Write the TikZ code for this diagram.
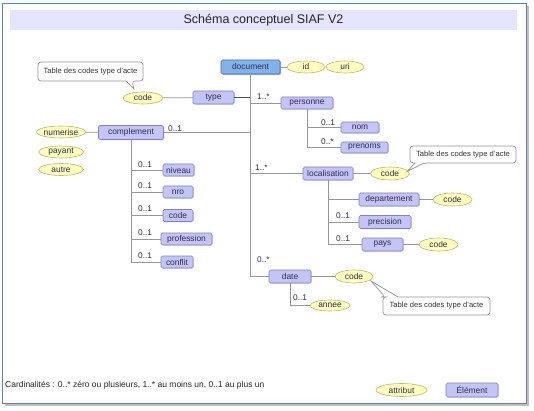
\documentclass[tikz,border=0pt]{standalone}
\usepackage{fontspec}
\setmainfont{Liberation Sans}
\usetikzlibrary{shapes.geometric,shadows}
\definecolor{elfill}{RGB}{196,196,246}
\definecolor{eldraw}{RGB}{130,130,195}
\definecolor{docfill}{RGB}{130,178,234}
\definecolor{docdraw}{RGB}{70,110,165}
\definecolor{atfill}{RGB}{255,255,190}
\definecolor{atdraw}{RGB}{185,185,115}
\definecolor{lnk}{RGB}{150,150,150}
\definecolor{txt}{RGB}{45,45,80}
\definecolor{titlefill}{RGB}{228,228,252}
\definecolor{framec}{RGB}{105,128,160}
\tikzset{
  elem/.style={rectangle, rounded corners=1.5pt, fill=elfill, draw=eldraw, line width=0.6pt,
    minimum height=13pt, inner sep=0pt, text=txt, font=\fontsize{8.4}{9}\selectfont,
    drop shadow={shadow xshift=0.8pt, shadow yshift=-0.8pt, opacity=0.25}},
  docel/.style={elem, fill=docfill, draw=docdraw,
    drop shadow={shadow xshift=1.2pt, shadow yshift=-1.2pt, opacity=0.5}},
  attr/.style={ellipse, fill=atfill, draw=atdraw, line width=0.6pt, minimum height=12pt,
    inner sep=0pt, text=txt, font=\fontsize{8.4}{9}\selectfont},
  card/.style={anchor=west, inner sep=0pt, text=txt, font=\fontsize{8.3}{9}\selectfont},
  link/.style={draw=lnk, line width=0.8pt},
  callout/.style={draw=lnk, fill=white, line width=0.7pt},
  calltext/.style={inner sep=0pt, text=black!80, font=\fontsize{7.6}{9}\selectfont}
}
\begin{document}
\begin{tikzpicture}[x=1pt,y=-1pt]
\useasboundingbox (0,0) rectangle (534,411);
% frame
\fill[black!25] (5,6) rectangle (529,406);
\filldraw[fill=white, draw=framec, line width=1pt] (2.5,3.5) rectangle (526,403);
\fill[titlefill] (10,10) rectangle (517,30);
\node[font=\fontsize{12.5}{14}\selectfont, text=black!85] (title) at (263.5,20) {Schéma conceptuel SIAF V2};

% element nodes
\node[docel, minimum width=59pt, minimum height=14pt] (document) at (250.5,67) {document};
\node[elem, minimum width=41pt] (type) at (213.5,97.5) {type};
\node[elem, minimum width=52pt, minimum height=12pt] (personne) at (307,103) {personne};
\node[elem, minimum width=38pt, minimum height=11pt] (nom) at (360,127.5) {nom};
\node[elem, minimum width=47pt, minimum height=11pt] (prenoms) at (364.5,147.5) {prenoms};
\node[elem, minimum width=65pt, minimum height=14pt] (complement) at (131,132.5) {complement};
\node[elem, minimum width=31pt, minimum height=12pt] (niveau) at (178.5,170) {niveau};
\node[elem, minimum width=30pt, minimum height=12pt] (nro) at (178,192) {nro};
\node[elem, minimum width=30pt, minimum height=12pt] (ccode) at (178,215.5) {code};
\node[elem, minimum width=51pt, minimum height=12pt] (profession) at (186.5,239) {profession};
\node[elem, minimum width=32pt, minimum height=12pt] (conflit) at (177,262) {conflit};
\node[elem, minimum width=50pt] (localisation) at (328,173.5) {localisation};
\node[elem, minimum width=60pt] (departement) at (389,199.5) {departement};
\node[elem, minimum width=52pt] (precision) at (385,222) {precision};
\node[elem, minimum width=41pt] (pays) at (382.5,244.5) {pays};
\node[elem, minimum width=42pt] (date) at (290,276.5) {date};
\node[elem, minimum width=52pt, minimum height=14pt] (legel) at (472,390) {Élément};

% attribute nodes
\node[attr, minimum width=38pt] (id) at (306,67) {id};
\node[attr, minimum width=38pt] (uri) at (345,67) {uri};
\node[attr, minimum width=40pt] (tcode) at (143,98) {code};
\node[attr, minimum width=45pt] (numerise) at (61,132) {numerise};
\node[attr, minimum width=45pt] (payant) at (61,152) {payant};
\node[attr, minimum width=45pt] (autre) at (61,169.5) {autre};
\node[attr, minimum width=39pt, minimum height=13pt] (lcode) at (390,173.5) {code};
\node[attr, minimum width=39pt, minimum height=13pt] (dcode) at (452.5,199.5) {code};
\node[attr, minimum width=39pt, minimum height=13pt] (pcode) at (438.5,244.5) {code};
\node[attr, minimum width=38pt, minimum height=13pt] (datecode) at (354,276.5) {code};
\node[attr, minimum width=40pt, minimum height=11pt] (annee) at (330,305.5) {annee};
\node[attr, minimum width=51pt, minimum height=13pt] (legat) at (401.5,390) {attribut};

% connectors
\path[link] (tcode) -- (type);
\draw[line width=0.9pt, draw=black!70] (type.east) -- (document.south |- type.east);
\path[link] (document.south) |- (date.west);
\path[link] (document.south |- personne.west) -- (personne.west);
\path[link] (complement.east) -- (document.south |- complement.east);
\path[link] (document.south |- localisation.west) -- (localisation.west);
\path[link] (document) -- (id);
\path[link] (numerise) -- (complement);
\path[link] (complement.south) |- (conflit.west);
\path[link] (complement.south |- niveau.west) -- (niveau.west);
\path[link] (complement.south |- nro.west) -- (nro.west);
\path[link] (complement.south |- ccode.west) -- (ccode.west);
\path[link] (complement.south |- profession.west) -- (profession.west);
\path[link] (personne.south) |- (prenoms.west);
\path[link] (personne.south |- nom.west) -- (nom.west);
\path[link] (localisation) -- (lcode);
\path[link] (localisation.south) |- (pays.west);
\path[link] (localisation.south |- departement.west) -- (departement.west);
\path[link] (localisation.south |- precision.west) -- (precision.west);
\path[link] (departement) -- (dcode);
\path[link] (pays) -- (pcode);
\path[link] (date) -- (datecode);
\path[link] (date.south) |- (annee.west);

% cardinalities
\node[card] (c1) at (257,97) {1..*};
\node[card] (c2) at (321,122.5) {0..1};
\node[card] (c3) at (321,142) {0..*};
\node[card] (c4) at (168,128.5) {0..1};
\node[card] (c5) at (138,164.5) {0..1};
\node[card] (c6) at (138,185.5) {0..1};
\node[card] (c7) at (138,209) {0..1};
\node[card] (c8) at (138,233) {0..1};
\node[card] (c9) at (138,256) {0..1};
\node[card] (c10) at (255,167.5) {1..*};
\node[card] (c11) at (336,215.5) {0..1};
\node[card] (c12) at (336,238.5) {0..1};
\node[card] (c13) at (257,260) {0..*};
\node[card] (c14) at (293,298) {0..1};

% callouts
\draw[callout, rounded corners=3pt] (38,62) -- (143,62) -- (143,81) -- (132,81)
  [sharp corners] -- (134,89) -- (126,81) [rounded corners=3pt] -- (38,81) -- cycle;
\node[calltext] (call1) at (90.5,71.5) {Table des codes type d'acte};
\draw[callout, rounded corners=3pt] (410,146) -- (516,146) -- (516,163) -- (424,163)
  [sharp corners] -- (407,171.5) -- (415,163) [rounded corners=3pt] -- (410,163) -- cycle;
\node[calltext] (call2) at (463,154.5) {Table des codes type d'acte};
\draw[callout, rounded corners=3pt] (383,297) -- (385,297) [sharp corners] -- (371,281)
  -- (398,297) [rounded corners=3pt] -- (490,297) -- (490,315) -- (383,315) -- cycle;
\node[calltext] (call3) at (436.5,306) {Table des codes type d'acte};

% legend
\node[anchor=west, inner sep=0pt, text=black!85, font=\fontsize{8.5}{10}\selectfont] (cardtext) at (5,385)
  {Cardinalités : 0..* zéro ou plusieurs, 1..* au moins un, 0..1 au plus un};
\end{tikzpicture}
\end{document}
